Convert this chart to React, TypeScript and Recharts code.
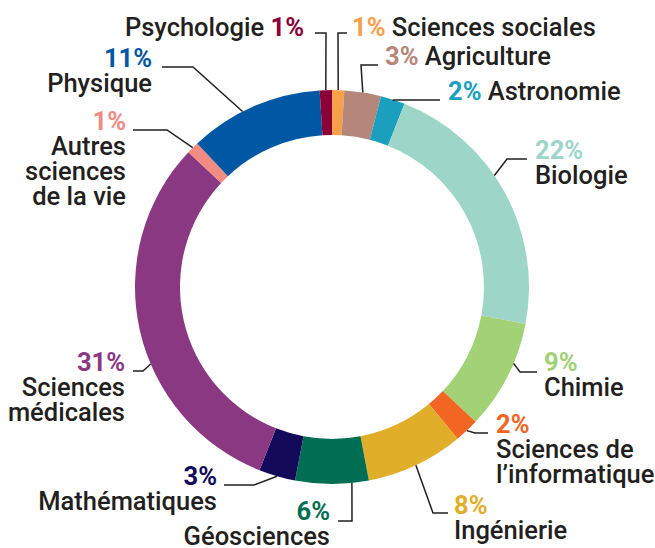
import { PieChart, Pie, Cell } from 'recharts';

const categories = [
  'Sciences sociales',
  'Agriculture',
  'Astronomie',
  'Biologie',
  'Chimie',
  'Sciences de l’informatique',
  'Ingénierie',
  'Géosciences',
  'Mathématiques',
  'Sciences médicales',
  'Autres sciences de la vie',
  'Physique',
  'Psychologie',
];
const shares = [1, 3, 2, 22, 9, 2, 8, 6, 3, 31, 1, 11, 1];
const colors = [
  '#f5a04a',
  '#b5877a',
  '#1a9fbf',
  '#9dd5c9',
  '#a2d176',
  '#f26522',
  '#e1ae2a',
  '#006e52',
  '#140a5a',
  '#8b3883',
  '#f28b82',
  '#0057a3',
  '#8b0036',
];

// label layout, offsets from the pie centre (px)
type LabelLayout = {
  angle?: number; // leader start, degrees clockwise from 12 o'clock (default: slice middle)
  elbow: [number, number];
  endX: number;
  textX: number;
  baseY: number;
  side: 'left' | 'right';
  inline?: boolean;
  lines: string[];
};

const labelLayout: LabelLayout[] = [
  { elbow: [6, -254], endX: 15, textX: 20, baseY: -251, side: 'right', inline: true, lines: ['Sciences sociales'] },
  { elbow: [29, -222], endX: 46, textX: 53, baseY: -222, side: 'right', inline: true, lines: ['Agriculture'] },
  { elbow: [61, -187], endX: 108, textX: 116, baseY: -187, side: 'right', inline: true, lines: ['Astronomie'] },
  { angle: 55.5, elbow: [175, -128], endX: 195, textX: 203, baseY: -128, side: 'right', lines: ['Biologie'] },
  { angle: 112.8, elbow: [188, 85], endX: 205, textX: 212, baseY: 84, side: 'right', lines: ['Chimie'] },
  { elbow: [143, 146], endX: 156, textX: 164, baseY: 146, side: 'right', lines: ['Sciences de', 'l’informatique'] },
  { elbow: [101, 226], endX: 116, textX: 122, baseY: 227, side: 'right', lines: ['Ingénierie'] },
  { angle: 174.2, elbow: [20, 234], endX: 6, textX: -2, baseY: 233, side: 'left', lines: ['Géosciences'] },
  { elbow: [-78, 198], endX: -108, textX: -115, baseY: 198, side: 'left', lines: ['Mathématiques'] },
  { angle: 247, elbow: [-189, 84], endX: -199, textX: -207, baseY: 84, side: 'left', lines: ['Sciences', 'médicales'] },
  { elbow: [-165, -157], endX: -199, textX: -206, baseY: -157, side: 'left', lines: ['Autres', 'sciences', 'de la vie'] },
  { angle: 333, elbow: [-139, -220], endX: -170, textX: -180, baseY: -220, side: 'left', lines: ['Physique'] },
  { elbow: [-6, -254], endX: -17, textX: -28, baseY: -251, side: 'left', inline: true, lines: ['Psychologie'] },
];

const data = categories.map((name, i) => ({ name, value: shares[i] }));

const FONT = 'Roboto, "Noto Sans", sans-serif';
const FONT_SIZE = 25.5;
const INK = '#231f20';
const LINE_H = 25;

const renderLabel = (props: any) => {
  const { cx, cy, midAngle, outerRadius, index } = props;
  const lay = labelLayout[index];
  const deg = lay.angle ?? 90 - midAngle;
  const rad = (deg * Math.PI) / 180;
  const x0 = cx + outerRadius * Math.sin(rad);
  const y0 = cy - outerRadius * Math.cos(rad);
  const ex = cx + lay.elbow[0];
  const ey = cy + lay.elbow[1];
  const pct = `${shares[index]}%`;
  const anchor = lay.side === 'left' ? 'end' : 'start';
  const tx = cx + lay.textX;
  const ty = cy + lay.baseY;

  let text;
  if (lay.inline) {
    text =
      lay.side === 'left' ? (
        <text x={tx} y={ty} textAnchor={anchor} fontFamily={FONT} fontSize={FONT_SIZE}>
          <tspan fill={INK} fontWeight={500}>{lay.lines[0]} </tspan>
          <tspan fill={colors[index]} fontWeight={700}>{pct}</tspan>
        </text>
      ) : (
        <text x={tx} y={ty} textAnchor={anchor} fontFamily={FONT} fontSize={FONT_SIZE}>
          <tspan fill={colors[index]} fontWeight={700}>{pct} </tspan>
          <tspan fill={INK} fontWeight={500}>{lay.lines[0]}</tspan>
        </text>
      );
  } else {
    text = (
      <text x={tx} y={ty} textAnchor={anchor} fontFamily={FONT} fontSize={FONT_SIZE}>
        <tspan x={tx} fill={colors[index]} fontWeight={700}>{pct}</tspan>
        {lay.lines.map((l, k) => (
          <tspan key={k} x={tx} dy={LINE_H} fill={INK} fontWeight={500}>
            {l}
          </tspan>
        ))}
      </text>
    );
  }

  return (
    <g>
      <polyline
        points={`${x0},${y0} ${ex},${ey} ${cx + lay.endX},${ey}`}
        fill="none"
        stroke={INK}
        strokeWidth={1.5}
      />
      {text}
    </g>
  );
};

export default function App() {
  return (
    <div style={{ position: 'absolute', left: 0, top: 0, width: 655, height: 548, background: '#fff' }}>
      <PieChart width={655} height={548} margin={{ top: 0, right: 0, bottom: 0, left: 0 }}>
        <Pie
          data={data}
          dataKey="value"
          nameKey="name"
          cx={332}
          cy={287}
          innerRadius={152}
          outerRadius={197}
          startAngle={90}
          endAngle={-270}
          stroke="none"
          label={renderLabel}
          labelLine={false}
          isAnimationActive={false}
        >
          {data.map((d, i) => (
            <Cell key={d.name} fill={colors[i]} />
          ))}
        </Pie>
      </PieChart>
    </div>
  );
}
